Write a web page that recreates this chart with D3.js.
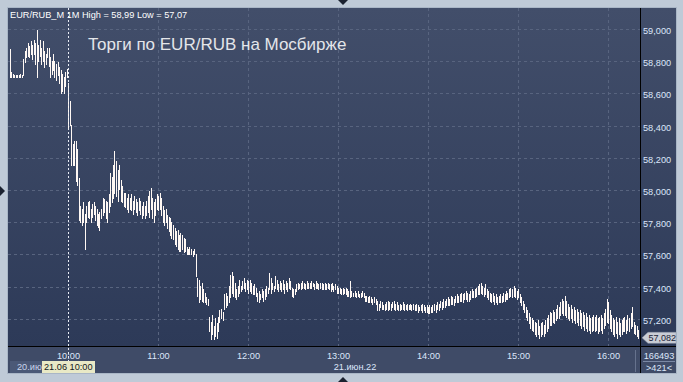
<!DOCTYPE html>
<html><head><meta charset="utf-8">
<script src="https://cdn.jsdelivr.net/npm/d3@7/dist/d3.min.js"></script>
<style>html,body{margin:0;padding:0;background:#bfcad7;}svg{display:block;font-family:"Liberation Sans",Arial,sans-serif;}</style>
</head><body>
<script>
// ---- data (1-minute bars, EUR/RUB_M) ----
const symbol = "EUR/RUB_M";
const period = "1M";
const title = "Торги по EUR/RUB на Мосбирже";
const highs = [
58.87,58.73,58.72,58.71,58.71,58.71,58.71,58.72,58.71,58.81,
58.86,58.88,58.91,58.89,58.92,58.90,58.93,58.91,58.99,58.90,
58.93,58.88,58.92,58.86,58.84,58.88,58.88,58.82,58.80,58.84,
58.80,58.78,58.79,58.76,58.74,58.72,58.70,58.73,58.75,
58.66,58.55,58.40,58.28,58.30,58.30,58.25,58.07,57.90,57.88,57.92,
57.85,57.90,57.92,57.93,57.88,57.91,57.92,57.90,57.88,57.85,
57.86,57.88,57.95,57.94,57.93,57.92,57.97,58.10,58.08,58.15,
58.24,58.18,58.12,58.15,58.06,58.02,57.98,57.98,57.95,57.97,
57.95,57.97,57.93,57.96,57.94,57.92,57.95,57.93,57.90,57.92,
57.90,57.93,57.96,57.99,58.01,57.95,57.92,57.94,57.97,57.96,
57.98,57.95,57.90,57.87,57.88,57.84,57.83,57.82,57.80,57.78,
57.76,57.74,57.75,57.72,57.73,57.72,57.70,57.69,57.64,57.63,
57.64,57.63,57.62,57.63,57.60,57.45,57.44,57.40,57.42,57.38,
57.36,57.33,57.32,57.21,57.18,57.22,57.15,57.20,57.17,57.21,
57.25,57.26,57.24,57.35,57.36,57.34,57.40,57.47,57.49,57.46,
57.42,57.38,57.40,57.44,57.40,57.43,57.45,57.42,57.44,57.43,
57.44,57.42,57.40,57.41,57.39,57.36,57.37,57.35,57.38,57.37,
57.38,57.40,57.39,57.48,57.45,57.42,57.40,57.46,57.44,57.41,
57.43,57.42,57.44,57.41,57.43,57.42,57.45,57.43,57.39,57.38,
57.38,57.41,57.42,57.41,57.42,57.43,57.42,57.41,57.43,57.42,
57.42,57.43,57.42,57.41,57.43,57.42,57.41,57.42,57.42,57.41,
57.42,57.41,57.42,57.41,57.41,57.42,57.40,57.41,57.40,57.39,
57.39,57.38,57.39,57.38,57.39,57.38,57.37,57.43,57.37,57.36,
57.37,57.36,57.37,57.35,57.36,57.37,57.36,57.34,57.34,57.33,
57.34,57.33,57.32,57.33,57.32,57.31,57.29,57.31,57.30,57.28,
57.29,57.30,57.31,57.30,57.29,57.30,57.31,57.29,57.30,57.28,
57.29,57.28,57.30,57.29,57.28,57.29,57.28,57.29,57.28,57.29,
57.28,57.29,57.28,57.27,57.28,57.29,57.28,57.27,57.28,57.27,
57.28,57.27,57.28,57.29,57.28,57.30,57.29,57.31,57.30,57.32,
57.31,57.32,57.33,57.32,57.34,57.33,57.32,57.34,57.35,57.34,
57.35,57.36,57.35,57.36,57.37,57.36,57.35,57.37,57.38,57.37,
57.38,57.39,57.40,57.41,57.42,57.40,57.39,57.41,57.38,57.37,
57.36,57.35,57.36,57.34,57.35,57.33,57.34,57.35,57.34,57.36,
57.35,57.37,57.36,57.38,57.39,57.38,57.40,57.39,57.37,57.38,
57.35,57.33,57.31,57.29,57.27,57.25,57.23,57.21,57.20,57.19,
57.18,57.17,57.19,57.15,57.17,57.18,57.16,57.19,57.20,57.22,
57.24,57.23,57.25,57.24,57.26,57.28,57.27,57.30,57.32,57.31,
57.34,57.31,57.29,57.27,57.28,57.26,57.27,57.25,57.26,57.24,
57.25,57.23,57.24,57.22,57.23,57.21,57.22,57.20,57.21,57.22,
57.21,57.22,57.20,57.21,57.22,57.20,57.23,57.26,57.32,57.30,
57.25,57.22,57.20,57.19,57.21,57.18,57.20,57.17,57.19,57.20,
57.21,57.19,57.22,57.20,57.23,57.27,57.18,57.16,57.15,57.13,57.12
];
const lows = [
58.70,58.70,58.70,58.70,58.70,58.70,58.70,58.70,58.70,58.71,
58.79,58.82,58.83,58.82,58.84,58.81,58.84,58.78,58.70,58.80,
58.83,58.78,58.80,58.76,58.78,58.82,58.77,58.70,58.72,58.74,
58.70,58.68,58.71,58.66,58.60,58.61,58.60,58.64,58.70,
58.39,58.40,58.15,58.15,58.15,58.05,58.03,57.81,57.80,57.78,57.80,
57.63,57.80,57.83,57.82,57.80,57.83,57.85,57.81,57.78,57.77,
57.75,57.82,57.84,57.86,57.82,57.80,57.86,57.90,57.92,57.95,
57.98,57.96,57.93,58.00,57.93,57.92,57.90,57.89,57.88,57.86,
57.88,57.87,57.85,57.88,57.86,57.84,57.87,57.85,57.82,57.84,
57.82,57.84,57.86,57.83,57.88,57.82,57.80,57.84,57.88,57.87,
57.88,57.84,57.80,57.78,57.80,57.76,57.74,57.72,57.70,57.69,
57.66,57.65,57.63,57.62,57.62,57.63,57.61,57.62,57.60,57.60,
57.60,57.60,57.59,57.60,57.46,57.34,57.30,57.32,57.31,57.30,
57.30,57.29,57.28,57.12,57.07,57.10,57.07,57.09,57.08,57.12,
57.18,57.20,57.19,57.26,57.27,57.28,57.30,57.33,57.36,57.34,
57.33,57.32,57.34,57.36,57.37,57.38,57.39,57.37,57.38,57.36,
57.37,57.36,57.35,57.35,57.34,57.31,57.30,57.32,57.33,57.31,
57.32,57.34,57.36,57.38,57.36,57.38,57.37,57.39,57.38,57.37,
57.38,57.37,57.38,57.36,57.38,57.37,57.39,57.38,57.34,57.33,
57.35,57.37,57.38,57.39,57.38,57.39,57.39,57.38,57.39,57.39,
57.39,57.39,57.40,57.38,57.39,57.39,57.38,57.39,57.38,57.38,
57.38,57.38,57.39,57.38,57.37,57.38,57.37,57.38,57.36,57.36,
57.36,57.35,57.35,57.36,57.35,57.34,57.34,57.33,57.34,57.34,
57.34,57.33,57.34,57.33,57.33,57.34,57.33,57.31,57.31,57.30,
57.30,57.30,57.29,57.30,57.29,57.25,57.25,57.27,57.26,57.26,
57.25,57.26,57.25,57.26,57.25,57.27,57.26,57.25,57.26,57.25,
57.25,57.26,57.26,57.25,57.26,57.25,57.26,57.26,57.25,57.26,
57.25,57.25,57.24,57.25,57.25,57.24,57.25,57.24,57.24,57.23,
57.23,57.24,57.24,57.25,57.24,57.26,57.25,57.27,57.26,57.27,
57.27,57.28,57.28,57.28,57.29,57.29,57.28,57.30,57.30,57.30,
57.31,57.31,57.30,57.32,57.32,57.31,57.31,57.32,57.33,57.33,
57.33,57.34,57.35,57.35,57.36,57.35,57.34,57.35,57.33,57.32,
57.31,57.30,57.31,57.29,57.30,57.29,57.30,57.30,57.30,57.31,
57.31,57.32,57.32,57.33,57.34,57.33,57.34,57.33,57.32,57.33,
57.30,57.28,57.26,57.24,57.21,57.19,57.17,57.14,57.13,57.12,
57.10,57.09,57.10,57.08,57.09,57.10,57.09,57.11,57.12,57.14,
57.16,57.16,57.18,57.17,57.19,57.20,57.20,57.22,57.23,57.22,
57.22,57.21,57.20,57.19,57.20,57.18,57.19,57.17,57.18,57.16,
57.16,57.14,57.15,57.13,57.14,57.12,57.13,57.11,57.12,57.13,
57.12,57.13,57.11,57.12,57.13,57.11,57.14,57.16,57.18,57.17,
57.14,57.12,57.10,57.09,57.11,57.08,57.10,57.09,57.10,57.12,
57.12,57.11,57.13,57.12,57.14,57.15,57.11,57.10,57.09,57.08,57.08
];
const lastPrice = 57.082;
const volumeTotal = "166493";
const barCount = ">421<";
const yTicks = [57.2, 57.4, 57.6, 57.8, 58.0, 58.2, 58.4, 58.6, 58.8, 59.0];
const xTickIndex = [39, 99, 159, 219, 279, 339, 399];
const xTickLabels = ["10:00", "11:00", "12:00", "13:00", "14:00", "15:00", "16:00"];
const dateLabel = "21.июн.22";
const prevDateLabel = "20.ию";
const cursorIndex = 39;
const cursorLabel = "21.06 10:00";

// ---- layout ----
const W = 683, H = 382;
const L = 8, T = 8, R = 640, B = 346, RP = 676, BP = 373;
const svg = d3.select("body").append("svg").attr("width", W).attr("height", H);
const defs = svg.append("defs");
const g1 = defs.append("linearGradient").attr("id", "bg").attr("x1", 0).attr("y1", 0).attr("x2", 0).attr("y2", 1);
g1.append("stop").attr("offset", "0%").attr("stop-color", "#424e6a");
g1.append("stop").attr("offset", "100%").attr("stop-color", "#2d3a58");
defs.append("clipPath").attr("id", "prevclip").append("rect").attr("x", 10).attr("y", 360).attr("width", 32).attr("height", 14);

svg.append("rect").attr("width", W).attr("height", H).attr("fill", "#bfcad7");
svg.append("rect").attr("x", L - 1).attr("y", T - 1).attr("width", RP - L + 2).attr("height", BP - T + 2).attr("fill", "#a9b6c6");
svg.append("rect").attr("x", L).attr("y", T).attr("width", RP - L).attr("height", B - T).attr("fill", "url(#bg)");
svg.append("rect").attr("x", L).attr("y", B).attr("width", RP - L).attr("height", BP - B).attr("fill", "#3f4b67");

const x = d3.scaleLinear().domain([0, highs.length - 1]).range([10, 640]);
const y = d3.scaleLinear().domain([57.0, 59.0]).range([351, 29]);
const fmtY = v => d3.format(".3f")(v).replace(".", ",");

// grid
const grid = svg.append("g").attr("stroke", "#58647f").attr("stroke-dasharray", "3,3").attr("shape-rendering", "crispEdges");
grid.selectAll("line.h").data(yTicks).join("line")
  .attr("x1", L).attr("x2", R).attr("y1", d => Math.round(y(d)) + 0.5).attr("y2", d => Math.round(y(d)) + 0.5);
grid.selectAll("line.v").data(xTickIndex.filter(i => i !== cursorIndex)).join("line")
  .attr("y1", T).attr("y2", B).attr("x1", d => Math.floor(x(d)) + 0.5).attr("x2", d => Math.floor(x(d)) + 0.5);

// bars
const bars = d3.range(highs.length).map(i => ({i, h: highs[i], l: lows[i]}));
svg.append("g").attr("fill", "#fff8f4").attr("shape-rendering", "crispEdges")
  .selectAll("rect").data(bars).join("rect")
  .attr("x", d => Math.floor(x(d.i)))
  .attr("width", 1)
  .attr("y", d => Math.floor(y(d.h)))
  .attr("height", d => Math.max(1, Math.ceil(y(d.l)) - Math.floor(y(d.h))));

// cursor line
const cx = Math.floor(x(cursorIndex)) + 0.5;
svg.append("line").attr("x1", cx).attr("x2", cx).attr("y1", T).attr("y2", 361)
  .attr("stroke", "#e8ecf4").attr("stroke-dasharray", "2,2");

// frame lines
svg.append("line").attr("x1", L).attr("x2", RP).attr("y1", B + 0.5).attr("y2", B + 0.5).attr("stroke", "#000");
svg.append("line").attr("x1", R + 0.5).attr("x2", R + 0.5).attr("y1", T).attr("y2", BP).attr("stroke", "#000");

// header & title
const hi = d3.max(highs), lo = d3.min(lows);
svg.append("text").attr("x", 10).attr("y", 18).attr("font-size", "9.2px").attr("fill", "#ffffff")
  .text(`${symbol} ${period} High = ${d3.format(".2f")(hi).replace(".", ",")} Low = ${d3.format(".2f")(lo).replace(".", ",")}`);
svg.append("text").attr("x", 88).attr("y", 50).attr("font-size", "17px").attr("fill", "#e4e6ea").text(title);

// right axis labels
svg.append("g").selectAll("text").data(yTicks).join("text")
  .attr("x", 643).attr("y", d => Math.round(y(d)) + 4.5)
  .attr("font-size", "9.2px").attr("fill", "#dce6fa").text(fmtY);

// last price marker
const py = y(lastPrice);
svg.append("path")
  .attr("d", `M642,${py} L648,${py - 5.5} L676,${py - 5.5} L676,${py + 5.5} L648,${py + 5.5} Z`)
  .attr("fill", "#c9cdd5").attr("stroke", "#9098a8").attr("stroke-width", 0.5);
svg.append("text").attr("x", 648.5).attr("y", py + 3.5).attr("font-size", "9px").attr("fill", "#1b2236").text(fmtY(lastPrice));

// x axis labels
svg.append("g").selectAll("text").data(xTickIndex).join("text")
  .attr("x", d => Math.floor(x(d)) + 0.5).attr("y", 358.5).attr("text-anchor", "middle")
  .attr("font-size", "9.2px").attr("fill", "#dce6fa").text((d, k) => xTickLabels[k]);
svg.append("text").attr("x", 355).attr("y", 370).attr("text-anchor", "middle").attr("font-size", "9.2px").attr("fill", "#dce6fa").text(dateLabel);

// prev date box + cursor label
svg.append("rect").attr("x", 10).attr("y", 361).attr("width", 32).attr("height", 12).attr("fill", "#4b5977");
svg.append("text").attr("x", 17).attr("y", 370).attr("font-size", "9.2px").attr("fill", "#c9d4ec")
  .attr("clip-path", "url(#prevclip)").text(prevDateLabel);
svg.append("rect").attr("x", 42).attr("y", 361).attr("width", 53).attr("height", 12).attr("fill", "#e9e9c6");
svg.append("text").attr("x", 44).attr("y", 370).attr("font-size", "9.2px").attr("fill", "#141820").text(cursorLabel);

// bottom panel divider
svg.append("line").attr("x1", 635.5).attr("x2", 635.5).attr("y1", 350).attr("y2", 372).attr("stroke", "#66728d");
// bottom-right info
svg.append("text").attr("x", 659).attr("y", 358.5).attr("text-anchor", "middle").attr("font-size", "9.2px").attr("fill", "#dce6fa").text(volumeTotal);
svg.append("line").attr("x1", 643).attr("x2", 675).attr("y1", 361.5).attr("y2", 361.5).attr("stroke", "#7a88a4");
svg.append("text").attr("x", 659).attr("y", 371).attr("text-anchor", "middle").attr("font-size", "9.2px").attr("fill", "#dce6fa").text(barCount);

// scroll triangles
svg.append("path").attr("d", "M338,0 L348,0 L343,5 Z").attr("fill", "#1b2230");
svg.append("path").attr("d", "M338,382 L348,382 L343,377 Z").attr("fill", "#1b2230");
svg.append("path").attr("d", "M0,186 L0,196 L5,191 Z").attr("fill", "#1b2230");
</script>
</body></html>
